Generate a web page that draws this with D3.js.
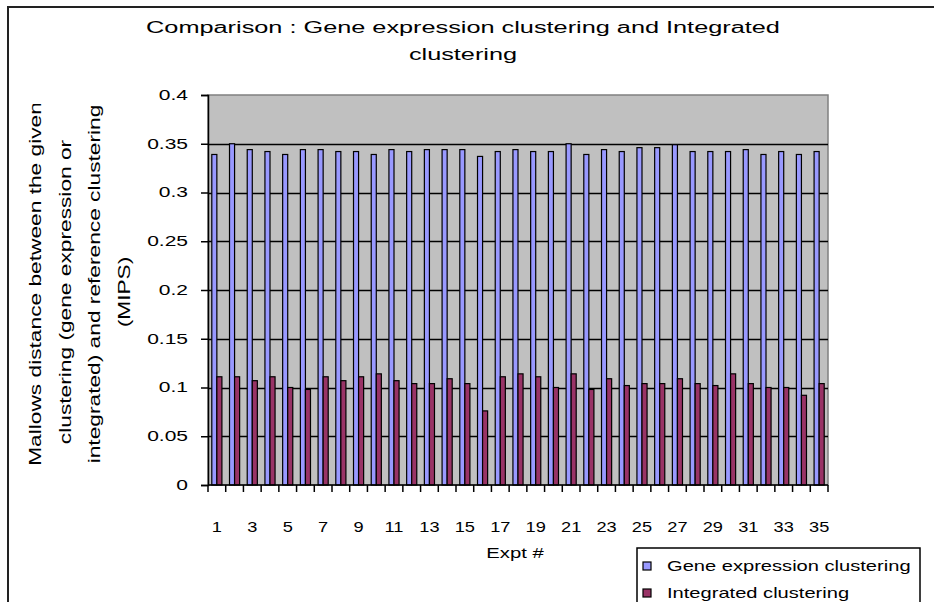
<!DOCTYPE html>
<html>
<head>
<meta charset="utf-8">
<script src="https://cdn.jsdelivr.net/npm/d3@7"></script>
<style>
  body { margin: 0; background: #fff; }
  svg { display: block; }
  text { font-family: "Liberation Sans", Arial, sans-serif; fill: #000; }
</style>
</head>
<body>
<svg id="chart" width="934" height="602"></svg>
<script>
// Experiment numbers on the category axis
const experiments = [1,2,3,4,5,6,7,8,9,10,11,12,13,14,15,16,17,18,19,20,
                     21,22,23,24,25,26,27,28,29,30,31,32,33,34,35];

// Mallows distance to the MIPS reference clustering, per experiment
const geneExpression = [0.339,0.350,0.344,0.342,0.339,0.344,0.344,0.342,0.342,0.339,
                        0.344,0.342,0.344,0.344,0.344,0.337,0.342,0.344,0.342,0.342,
                        0.350,0.339,0.344,0.342,0.346,0.346,0.349,0.342,0.342,0.342,
                        0.344,0.339,0.342,0.339,0.342];
const integrated = [0.111,0.111,0.107,0.111,0.100,0.098,0.111,0.107,0.111,0.114,
                    0.107,0.104,0.104,0.109,0.104,0.076,0.111,0.114,0.111,0.100,
                    0.114,0.098,0.109,0.102,0.104,0.104,0.109,0.104,0.102,0.114,
                    0.104,0.100,0.100,0.092,0.104];

const seriesNames = ["Gene expression clustering", "Integrated clustering"];
const seriesColors = ["#9999FF", "#993366"];

const yTicks = [0, 0.05, 0.1, 0.15, 0.2, 0.25, 0.3, 0.35, 0.4];
const yTickLabels = ["0", "0.05", "0.1", "0.15", "0.2", "0.25", "0.3", "0.35", "0.4"];
const xTickLabels = ["1","3","5","7","9","11","13","15","17","19","21","23","25","27","29","31","33","35"];

const titleLines = ["Comparison : Gene expression clustering and Integrated", "clustering"];
const yTitleLines = ["Mallows distance between the given",
                     "clustering (gene expression or",
                     "integrated) and reference clustering",
                     "(MIPS)"];
const xTitle = "Expt #";

const svg = d3.select("#chart");
const plot = { left: 208, right: 828, top: 95, bottom: 485 };

// widen glyphs horizontally so the text matches the old bitmap-font look
function stretch(sel, k) {
  sel.each(function () {
    const w = this.getComputedTextLength();
    d3.select(this).attr("textLength", w * k).attr("lengthAdjust", "spacingAndGlyphs");
  });
}

// chart frame
svg.append("rect")
  .attr("x", 8).attr("y", 7).attr("width", 1000).attr("height", 700)
  .attr("fill", "#fff").attr("stroke", "#222").attr("stroke-width", 2);

// title
svg.append("g").selectAll("text").data(titleLines).join("text")
  .attr("x", 463).attr("y", (d, i) => 33 + i * 27)
  .attr("text-anchor", "middle").attr("font-size", 16)
  .text(d => d)
  .call(stretch, 1.58);

const x = d3.scaleBand().domain(experiments).range([plot.left, plot.right]).padding(0);
const xInner = d3.scaleBand().domain([0, 1]).range([0, x.bandwidth()])
  .paddingInner(0).paddingOuter(0.75);
const y = d3.scaleLinear().domain([0, 0.4]).range([plot.bottom, plot.top]);

// plot area
svg.append("rect")
  .attr("x", plot.left).attr("y", plot.top)
  .attr("width", plot.right - plot.left).attr("height", plot.bottom - plot.top)
  .attr("fill", "#C0C0C0").attr("stroke", "#808080").attr("stroke-width", 1.5);

// horizontal gridlines
svg.append("g").selectAll("line").data(yTicks.filter(t => t > 0 && t < 0.4)).join("line")
  .attr("x1", plot.left).attr("x2", plot.right)
  .attr("y1", d => Math.round(y(d)) + 0.5).attr("y2", d => Math.round(y(d)) + 0.5)
  .attr("stroke", "#000").attr("stroke-width", 1.3);

// bars
const rows = experiments.map((e, i) => ({ e, values: [geneExpression[i], integrated[i]] }));
svg.append("g").selectAll("g").data(rows).join("g")
  .attr("transform", d => `translate(${x(d.e)},0)`)
  .selectAll("rect").data(d => d.values.map((v, s) => ({ v, s }))).join("rect")
  .attr("x", d => xInner(d.s)).attr("width", xInner.bandwidth())
  .attr("y", d => y(d.v)).attr("height", d => y(0) - y(d.v))
  .attr("fill", d => seriesColors[d.s])
  .attr("stroke", "#000").attr("stroke-width", 1.2);

// y axis
const yAxis = d3.axisLeft(y).tickValues(yTicks)
  .tickFormat((d, i) => yTickLabels[i]).tickSize(7).tickPadding(13);
const gy = svg.append("g").attr("transform", `translate(${plot.left},0)`).call(yAxis);
gy.select(".domain").attr("stroke", "#000").attr("stroke-width", 1.5);
gy.selectAll(".tick line").attr("stroke", "#000").attr("stroke-width", 1.5);
gy.selectAll(".tick text").attr("font-size", 14).attr("font-family", null)
  .call(stretch, 1.5);

// x axis: ticks on category boundaries, labels on every other category
const gx = svg.append("g");
gx.append("line")
  .attr("x1", plot.left).attr("x2", plot.right)
  .attr("y1", plot.bottom).attr("y2", plot.bottom)
  .attr("stroke", "#000").attr("stroke-width", 1.5);
gx.selectAll("line.tick").data(experiments.concat([null])).join("line")
  .attr("class", "tick")
  .attr("x1", (d, i) => plot.left + i * x.step()).attr("x2", (d, i) => plot.left + i * x.step())
  .attr("y1", plot.bottom).attr("y2", plot.bottom + 7)
  .attr("stroke", "#000").attr("stroke-width", 1.5);
gx.selectAll("text").data(xTickLabels).join("text")
  .attr("x", d => x(+d) + x.bandwidth() / 2).attr("y", 532)
  .attr("text-anchor", "middle").attr("font-size", 14)
  .text(d => d)
  .call(stretch, 1.3);

// axis titles
svg.append("text")
  .attr("x", 515).attr("y", 558).attr("text-anchor", "middle").attr("font-size", 15)
  .text(xTitle).call(stretch, 1.35);

svg.append("clipPath").attr("id", "ytitle-clip")
  .append("rect").attr("x", 0).attr("y", 104).attr("width", 160).attr("height", 500);
svg.append("g").attr("clip-path", "url(#ytitle-clip)")
  .selectAll("text").data(yTitleLines).join("text")
  .attr("transform", (d, i) => `translate(${41 + i * 29.5},${i % 2 === 0 ? 284 : 292}) rotate(-90)`)
  .attr("text-anchor", "middle").attr("font-size", 16)
  .text(d => d)
  .call(stretch, 1.42);

// legend
const lg = svg.append("g").attr("transform", "translate(637,548)");
lg.append("rect").attr("width", 283).attr("height", 80)
  .attr("fill", "#fff").attr("stroke", "#000").attr("stroke-width", 1.5);
const li = lg.selectAll("g").data(seriesNames).join("g")
  .attr("transform", (d, i) => `translate(6,${14 + i * 27})`);
li.append("rect").attr("width", 8).attr("height", 8)
  .attr("fill", (d, i) => seriesColors[i]).attr("stroke", "#000").attr("stroke-width", 1.2);
li.append("text").attr("x", 24).attr("y", 9).attr("font-size", 15)
  .text(d => d).call(stretch, 1.34);
</script>
</body>
</html>
